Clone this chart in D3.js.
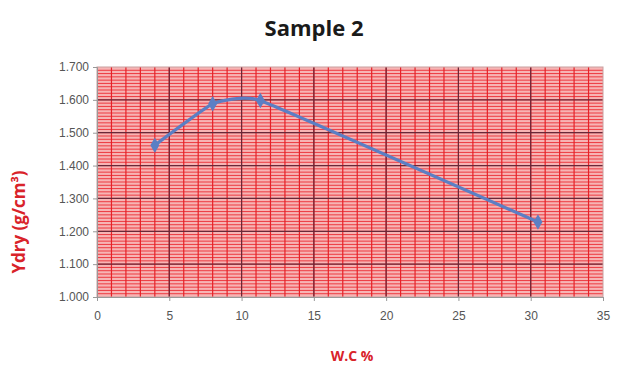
<!DOCTYPE html>
<html>
<head>
<meta charset="utf-8">
<script src="https://cdn.jsdelivr.net/npm/d3@7"></script>
<style>
  body { margin: 0; background: #fff; }
  svg { display: block; font-family: "Open Sans", "Liberation Sans", sans-serif; }
</style>
</head>
<body>
<div id="chart"></div>
<script>
const wc = [4.0, 8.0, 11.3, 30.5];
const ydry = [1.462, 1.588, 1.598, 1.228];
const xTicks = [0, 5, 10, 15, 20, 25, 30, 35];
const yTicks = [1.0, 1.1, 1.2, 1.3, 1.4, 1.5, 1.6, 1.7];

const W = 617, H = 370;
const m = {top: 67, right: 14, bottom: 73, left: 97};
const iw = W - m.left - m.right, ih = H - m.top - m.bottom;

const svg = d3.select("#chart").append("svg").attr("width", W).attr("height", H);

const x = d3.scaleLinear().domain([0, 35]).range([0, iw]);
const y = d3.scaleLinear().domain([1.0, 1.7]).range([ih, 0]);

const g = svg.append("g").attr("transform", `translate(${m.left},${m.top})`);

// plot background
g.append("rect").attr("width", iw).attr("height", ih).attr("fill", "#f7b4b4");

// minor horizontal lines
g.append("g").selectAll("line")
  .data(d3.range(1, 70).map(i => 1.0 + i * 0.01))
  .join("line")
  .attr("x1", 0).attr("x2", iw)
  .attr("y1", d => y(d)).attr("y2", d => y(d))
  .attr("stroke", "#ec3a40").attr("stroke-width", 1);

// minor vertical lines
g.append("g").selectAll("line")
  .data(d3.range(1, 35))
  .join("line")
  .attr("y1", 0).attr("y2", ih)
  .attr("x1", d => x(d)).attr("x2", d => x(d))
  .attr("stroke", "#e62228").attr("stroke-width", 1.2);

// major grid
g.append("g").selectAll("line")
  .data(yTicks.slice(1, -1))
  .join("line")
  .attr("x1", 0).attr("x2", iw)
  .attr("y1", d => y(d)).attr("y2", d => y(d))
  .attr("stroke", "#6a2838").attr("stroke-width", 1.2);
g.append("g").selectAll("line")
  .data(xTicks.slice(1, -1))
  .join("line")
  .attr("y1", 0).attr("y2", ih)
  .attr("x1", d => x(d)).attr("x2", d => x(d))
  .attr("stroke", "#6a2838").attr("stroke-width", 1.2);

g.append("rect").attr("width", iw).attr("height", ih)
  .attr("fill", "none").attr("stroke", "#c9a0a0").attr("stroke-width", 1);

// axes
const yAxis = g.append("g")
  .call(d3.axisLeft(y).tickValues(yTicks).tickFormat(d3.format(".3f")).tickSize(4).tickPadding(4));
const xAxis = g.append("g").attr("transform", `translate(0,${ih})`)
  .call(d3.axisBottom(x).tickValues(xTicks).tickSize(4).tickPadding(10));
[yAxis, xAxis].forEach(a => {
  a.select(".domain").attr("stroke", "#999");
  a.selectAll(".tick line").attr("stroke", "#999");
  a.selectAll("text").attr("fill", "#555").attr("font-size", 12);
});

// series
const pts = wc.map((d, i) => [d, ydry[i]]);
g.append("path").datum(pts)
  .attr("fill", "none").attr("stroke", "#5b7fc4").attr("stroke-width", 3.2)
  .attr("d", d3.line().x(d => x(d[0])).y(d => y(d[1])).curve(d3.curveCardinal.tension(0.7)));
g.append("g").selectAll("path")
  .data(pts)
  .join("path")
  .attr("transform", d => `translate(${x(d[0])},${y(d[1])})`)
  .attr("d", d3.symbol(d3.symbolDiamond, 70))
  .attr("fill", "#5b7fc4");

// titles
svg.append("text").attr("x", 314).attr("y", 36).attr("text-anchor", "middle")
  .attr("font-size", 22).attr("font-weight", "bold").attr("fill", "#1a1a1a").text("Sample 2");
svg.append("text").attr("x", 352).attr("y", 361).attr("text-anchor", "middle")
  .attr("font-size", 14).attr("font-weight", "bold").attr("fill", "#d9232a").text("W.C %");
svg.append("text").attr("transform", "translate(25,222) rotate(-90)").attr("text-anchor", "middle")
  .attr("font-size", 17).attr("font-weight", "bold").attr("fill", "#d9232a").text("Ydry (g/cm³)");
</script>
</body>
</html>
